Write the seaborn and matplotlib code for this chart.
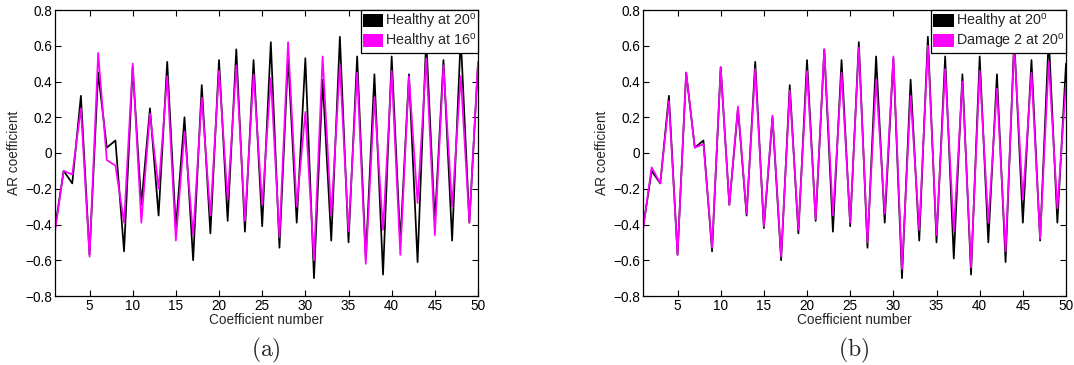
import numpy as np
import pandas as pd
import matplotlib
matplotlib.use("Agg")
import matplotlib.pyplot as plt
import seaborn as sns
from matplotlib.patches import Patch

coef = list(range(1, 51))

healthy_20 = [-0.42, -0.10, -0.17, 0.32, -0.57, 0.45, 0.03, 0.07, -0.55, 0.48,
              -0.29, 0.25, -0.35, 0.51, -0.42, 0.20, -0.60, 0.38, -0.45, 0.52,
              -0.38, 0.58, -0.44, 0.52, -0.41, 0.62, -0.53, 0.54, -0.39, 0.53,
              -0.70, 0.41, -0.49, 0.65, -0.50, 0.54, -0.59, 0.44, -0.68, 0.54,
              -0.50, 0.44, -0.61, 0.64, -0.39, 0.52, -0.49, 0.65, -0.39, 0.50]

healthy_16 = [-0.44, -0.10, -0.12, 0.25, -0.58, 0.56, -0.04, -0.07, -0.39, 0.50,
              -0.39, 0.22, -0.20, 0.43, -0.49, 0.12, -0.46, 0.31, -0.35, 0.46,
              -0.26, 0.49, -0.38, 0.44, -0.29, 0.42, -0.47, 0.62, -0.30, 0.23,
              -0.60, 0.54, -0.35, 0.49, -0.44, 0.45, -0.62, 0.31, -0.43, 0.46,
              -0.57, 0.43, -0.28, 0.53, -0.46, 0.49, -0.30, 0.43, -0.39, 0.51]

damage2_20 = [-0.43, -0.08, -0.17, 0.29, -0.57, 0.45, 0.03, 0.05, -0.53, 0.48,
              -0.29, 0.26, -0.34, 0.47, -0.41, 0.21, -0.58, 0.35, -0.43, 0.46,
              -0.37, 0.58, -0.35, 0.45, -0.39, 0.59, -0.50, 0.41, -0.34, 0.54,
              -0.65, 0.32, -0.43, 0.60, -0.46, 0.47, -0.44, 0.40, -0.64, 0.46,
              -0.39, 0.36, -0.55, 0.60, -0.26, 0.45, -0.48, 0.51, -0.31, 0.39]

y_ticks = [-0.8, -0.6, -0.4, -0.2, 0, 0.2, 0.4, 0.6, 0.8]
y_tick_labels = ["\u22120.8", "\u22120.6", "\u22120.4", "\u22120.2", "0", "0.2", "0.4", "0.6", "0.8"]
x_ticks = [5, 10, 15, 20, 25, 30, 35, 40, 45, 50]

panels = [
    ("(a)", r"Healthy at 20$^{\mathrm{o}}$", healthy_20, r"Healthy at 16$^{\mathrm{o}}$", healthy_16),
    ("(b)", r"Healthy at 20$^{\mathrm{o}}$", healthy_20, r"Damage 2 at 20$^{\mathrm{o}}$", damage2_20),
]

sns.set_style("ticks")
plt.rcParams['font.family'] = ['Liberation Sans', 'DejaVu Sans']
plt.rcParams['mathtext.fontset'] = 'custom'
plt.rcParams['mathtext.rm'] = 'Liberation Sans'

W, H = 1074, 365
fig = plt.figure(figsize=(W / 100, H / 100), dpi=100)

lefts = [55, 643]
for (tag, lab1, s1, lab2, s2), lpx in zip(panels, lefts):
    ax = fig.add_axes([lpx / W, (H - 296) / H, 423 / W, 286 / H])
    df = pd.DataFrame({"x": coef + coef,
                       "y": s1 + s2,
                       "series": [lab1] * len(s1) + [lab2] * len(s2)})
    sns.lineplot(data=df, x="x", y="y", hue="series",
                 palette={lab1: "black", lab2: "#ff00ff"},
                 linewidth=1.25, ax=ax, legend=False, sort=False)
    ax.set_xlim(1, 50)
    ax.set_ylim(-0.8, 0.8)
    ax.set_xticks(x_ticks)
    ax.set_yticks(y_ticks)
    ax.set_yticklabels(y_tick_labels)
    ax.tick_params(direction="in", top=True, right=True, length=4.5, width=0.8,
                   labelsize=9.8, pad=2, colors="black")
    for sp in ax.spines.values():
        sp.set_visible(True)
        sp.set_linewidth(0.9)
        sp.set_color("black")
    ax.set_xlabel("Coefficient number", fontsize=9.8, labelpad=0)
    ax.set_ylabel("AR coefficient", fontsize=9.8, labelpad=3)
    handles = [Patch(facecolor="black", edgecolor="none", label=lab1),
               Patch(facecolor="#ff00ff", edgecolor="none", label=lab2)]
    leg = ax.legend(handles=handles, loc="upper right", fontsize=10.3,
                    frameon=True, fancybox=False, framealpha=1,
                    edgecolor="black", borderpad=0.12, labelspacing=0.08,
                    handlelength=1.45, handleheight=0.95, handletextpad=0.12,
                    borderaxespad=0.0)
    leg.set_zorder(10)
    leg.get_frame().set_linewidth(0.9)
    fig.text((lpx + 211) / W, 1 - 350 / H, r"$\mathrm{" + tag + "}$",
             ha="center", va="center", fontsize=17, math_fontfamily="cm")

fig.savefig("out.png", dpi=100)
